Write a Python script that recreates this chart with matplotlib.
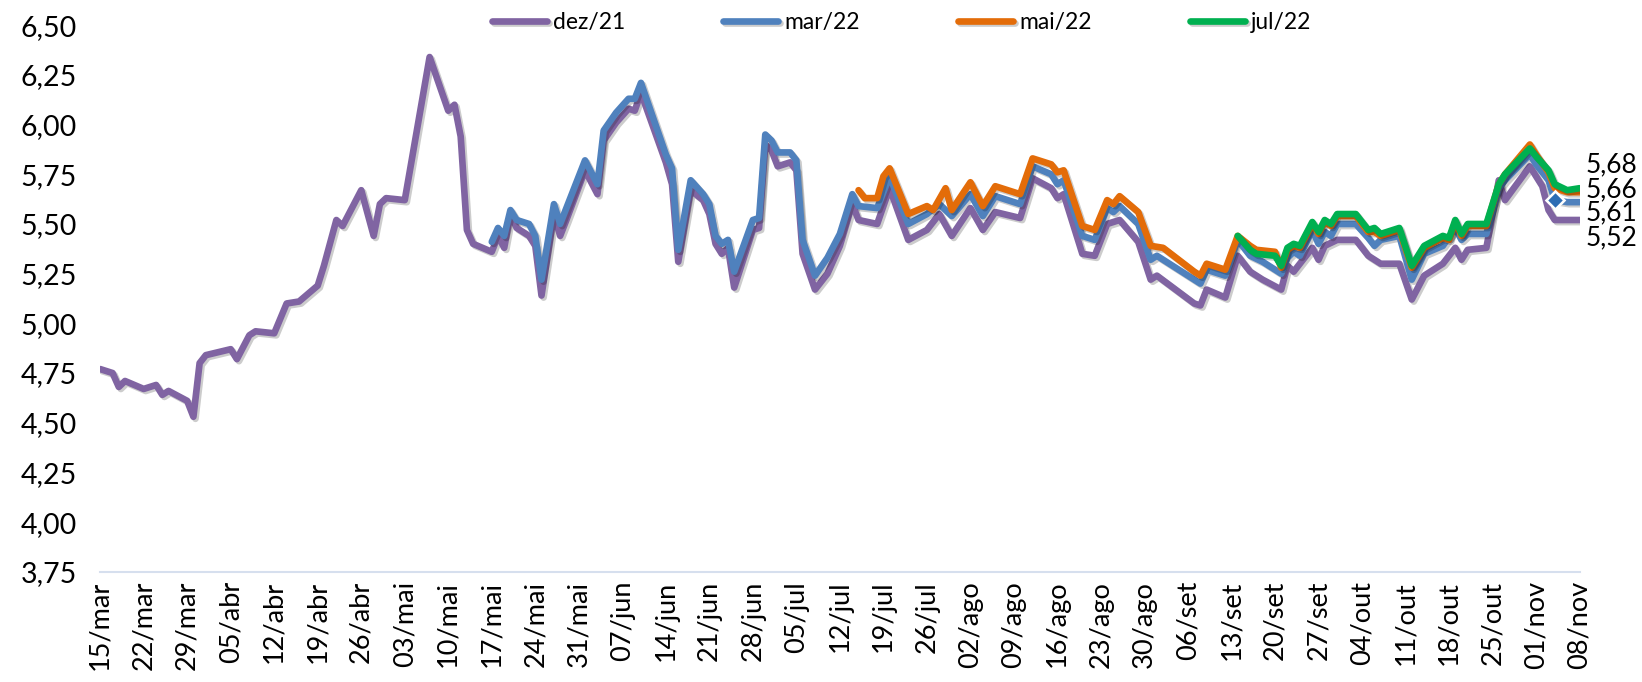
import pandas as pd
import matplotlib
matplotlib.use('Agg')
import matplotlib.pyplot as plt
import matplotlib.patheffects as pe

plt.rcParams['font.family'] = ['Lato', 'DejaVu Sans']

# dias contados a partir de 15/mar/2021
inicio = pd.Timestamp('2021-03-15')
fim = pd.Timestamp('2021-11-08')

dias_dez21 = [0, 2, 3, 4, 7, 9, 10, 11, 14, 15,
              16, 17, 21, 22, 24, 25, 28, 30, 32, 35,
              36, 38, 39, 42, 44, 45, 46, 49, 53, 56,
              57, 58, 59, 60, 63, 64, 65, 66, 67, 69,
              70, 71, 73, 74, 75, 78, 80, 81, 83, 85,
              86, 87, 91, 92, 93, 95, 97, 98, 99, 100,
              101, 102, 105, 106, 107, 108, 109, 111, 112, 113,
              115, 117, 119, 121, 122, 125, 127, 130, 133, 135,
              137, 140, 142, 144, 148, 150, 153, 154, 155, 158,
              160, 162, 164, 167, 169, 170, 176, 177, 178, 181,
              183, 185, 187, 190, 191, 192, 195, 196, 197, 199,
              202, 204, 206, 209, 211, 213, 216, 218, 219, 220,
              223, 225, 226, 230, 232, 233, 234, 236, 238]
dez21 = [4.77, 4.75, 4.68, 4.71, 4.67, 4.69, 4.64, 4.66, 4.61, 4.53,
         4.80, 4.84, 4.87, 4.82, 4.94, 4.96, 4.95, 5.10, 5.11, 5.19,
         5.29, 5.52, 5.49, 5.67, 5.44, 5.60, 5.63, 5.62, 6.34, 6.07,
         6.10, 5.94, 5.47, 5.40, 5.36, 5.44, 5.38, 5.55, 5.48, 5.44,
         5.39, 5.14, 5.55, 5.44, 5.52, 5.77, 5.65, 5.92, 6.01, 6.08,
         6.07, 6.16, 5.81, 5.70, 5.31, 5.67, 5.62, 5.55, 5.40, 5.35,
         5.38, 5.18, 5.47, 5.48, 5.90, 5.87, 5.79, 5.81, 5.77, 5.35,
         5.17, 5.25, 5.39, 5.60, 5.52, 5.50, 5.68, 5.42, 5.47, 5.55,
         5.44, 5.58, 5.47, 5.56, 5.53, 5.73, 5.68, 5.63, 5.65, 5.35,
         5.34, 5.50, 5.52, 5.41, 5.22, 5.24, 5.10, 5.09, 5.17, 5.13,
         5.34, 5.26, 5.22, 5.17, 5.29, 5.26, 5.38, 5.32, 5.39, 5.42,
         5.42, 5.34, 5.30, 5.30, 5.12, 5.24, 5.30, 5.38, 5.32, 5.37,
         5.38, 5.72, 5.62, 5.79, 5.69, 5.57, 5.52, 5.52, 5.52]

dias_mar22 = [63, 64, 65, 66, 67, 69, 70, 71, 73, 74,
              78, 80, 81, 83, 85, 86, 87, 91, 92, 93,
              95, 97, 98, 99, 100, 101, 102, 105, 106, 107,
              108, 109, 111, 112, 113, 115, 117, 119, 121, 122,
              125, 127, 130, 133, 135, 137, 140, 142, 144, 148,
              150, 153, 154, 155, 158, 160, 162, 163, 164, 167,
              169, 170, 176, 177, 178, 181, 183, 185, 187, 190,
              191, 192, 193, 195, 196, 197, 198, 199, 202, 204,
              205, 206, 209, 211, 213, 216, 218, 219, 220, 223,
              225, 226, 230, 231, 233, 234, 236, 238]
mar22 = [5.41, 5.48, 5.44, 5.57, 5.52, 5.50, 5.44, 5.22, 5.60, 5.50,
         5.82, 5.70, 5.97, 6.06, 6.13, 6.13, 6.21, 5.85, 5.78, 5.37,
         5.72, 5.65, 5.60, 5.44, 5.40, 5.42, 5.26, 5.52, 5.53, 5.95,
         5.92, 5.86, 5.86, 5.82, 5.42, 5.24, 5.33, 5.45, 5.65, 5.59,
         5.58, 5.74, 5.50, 5.55, 5.60, 5.54, 5.65, 5.54, 5.64, 5.60,
         5.79, 5.75, 5.70, 5.72, 5.44, 5.42, 5.58, 5.56, 5.59, 5.50,
         5.32, 5.34, 5.22, 5.20, 5.27, 5.24, 5.42, 5.34, 5.31, 5.25,
         5.33, 5.36, 5.34, 5.47, 5.40, 5.46, 5.44, 5.50, 5.50, 5.43,
         5.39, 5.42, 5.44, 5.22, 5.35, 5.39, 5.48, 5.42, 5.45, 5.45,
         5.68, 5.72, 5.85, 5.80, 5.72, 5.62, 5.61, 5.61]

dias_mai22 = [122, 123, 125, 126, 127, 130, 133, 134, 136, 137,
              140, 142, 144, 148, 150, 153, 154, 155, 158, 160,
              162, 163, 164, 167, 169, 171, 176, 177, 178, 181,
              183, 185, 186, 189, 190, 191, 192, 193, 195, 196,
              197, 198, 199, 202, 204, 205, 206, 209, 211, 213,
              216, 217, 218, 219, 220, 223, 225, 226, 230, 231,
              233, 234, 236, 238]
mai22 = [5.67, 5.63, 5.63, 5.74, 5.78, 5.55, 5.59, 5.57, 5.68, 5.57,
         5.71, 5.59, 5.69, 5.65, 5.83, 5.80, 5.76, 5.77, 5.49, 5.47,
         5.62, 5.60, 5.64, 5.56, 5.39, 5.38, 5.26, 5.24, 5.30, 5.27,
         5.44, 5.39, 5.37, 5.36, 5.28, 5.37, 5.39, 5.38, 5.50, 5.45,
         5.51, 5.49, 5.54, 5.54, 5.46, 5.46, 5.44, 5.47, 5.28, 5.38,
         5.43, 5.42, 5.51, 5.44, 5.49, 5.49, 5.70, 5.75, 5.90, 5.85,
         5.76, 5.68, 5.66, 5.66]

dias_jul22 = [183, 185, 186, 189, 190, 191, 192, 193, 195, 196,
              197, 198, 199, 202, 204, 205, 206, 209, 211, 213,
              216, 217, 218, 219, 220, 223, 225, 226, 230, 231,
              233, 234, 236, 238]
jul22 = [5.44, 5.37, 5.35, 5.34, 5.29, 5.38, 5.40, 5.39, 5.51, 5.46,
         5.52, 5.50, 5.55, 5.55, 5.47, 5.48, 5.45, 5.48, 5.29, 5.39,
         5.44, 5.43, 5.52, 5.45, 5.50, 5.50, 5.70, 5.75, 5.88, 5.84,
         5.77, 5.70, 5.67, 5.68]

nomes = ['dez/21', 'mar/22', 'mai/22', 'jul/22']
cores = ['#8064A2', '#4F81BD', '#E36C09', '#00B050']
meses = {3: 'mar', 4: 'abr', 5: 'mai', 6: 'jun', 7: 'jul', 8: 'ago',
         9: 'set', 10: 'out', 11: 'nov'}
# deslocamento vertical (pt) dos rótulos finais
desloc_rotulo = [-13, -8, 1.5, 16.5]

series = [(dias_dez21, dez21), (dias_mar22, mar22), (dias_mai22, mai22), (dias_jul22, jul22)]

fig = plt.figure(figsize=(16.42, 6.82), dpi=100)
ax = fig.add_axes([0.061, 0.1616, 0.901, 0.8014])

sombra = [pe.SimpleLineShadow(offset=(1.5, -1.5), alpha=0.2, shadow_color='black'), pe.Normal()]

for (dias, valores), cor, nome, dy in zip(series, cores, nomes, desloc_rotulo):
    datas = inicio + pd.to_timedelta(dias, unit='D')
    ax.plot(datas, valores, color=cor, lw=4.8, label=nome,
            solid_joinstyle='round', solid_capstyle='round', path_effects=sombra)
    txt = f"{valores[-1]:.2f}".replace('.', ',')
    ax.annotate(txt, xy=(datas[-1], valores[-1]), xytext=(4, dy),
                textcoords='offset points', va='center', ha='left',
                fontsize=19, annotation_clip=False)

# marcador em losango na série mar/22
idx = dias_mar22.index(234)
ax.plot(inicio + pd.Timedelta(days=234), mar22[idx], marker='D', ms=9,
        mfc='#2E6DB4', mec='white', mew=1.8, ls='none', zorder=5)

# eixos
ax.set_xlim(inicio, fim)
ticks_x = pd.date_range(inicio, fim, freq='7D')
ax.set_xticks(ticks_x)
ax.set_xticklabels([f"{d.day:02d}/{meses[d.month]}" for d in ticks_x], rotation=90)

ticks_y = [3.75 + 0.25 * i for i in range(12)]
ax.set_ylim(3.75, 6.5)
ax.set_yticks(ticks_y)
ax.set_yticklabels([f"{v:.2f}".replace('.', ',') for v in ticks_y])

for s in ['top', 'right', 'left']:
    ax.spines[s].set_visible(False)
ax.spines['bottom'].set_color('#D6DFEE')
ax.spines['bottom'].set_linewidth(1.5)

ax.tick_params(axis='both', length=0, labelsize=19.5)
ax.tick_params(axis='y', pad=17, labelsize=20.5)
ax.tick_params(axis='x', pad=6.5)

fig.legend(loc='center', bbox_to_anchor=(0.549, 0.967), ncol=4, frameon=False,
           fontsize=16.5, handlelength=2.4, handletextpad=0.25, columnspacing=4.3)

fig.savefig('out.png', dpi=100)
